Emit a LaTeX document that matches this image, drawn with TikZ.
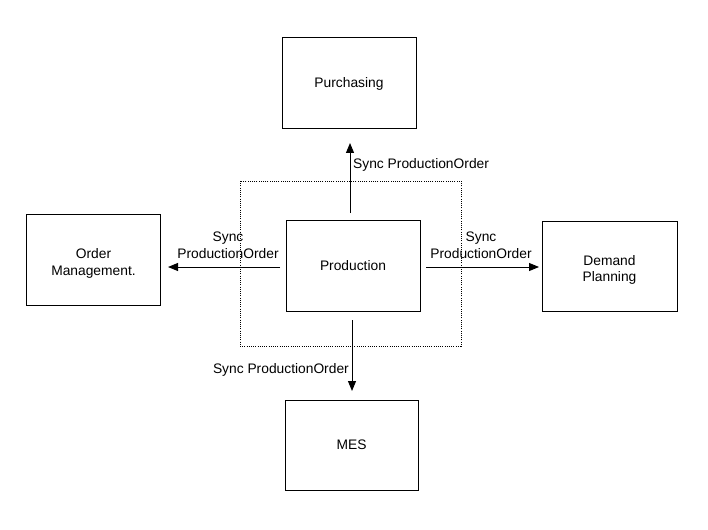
\documentclass[tikz,border=0pt]{standalone}
\usepackage{fontspec}
\setmainfont{Liberation Sans}
\usetikzlibrary{arrows.meta}
\begin{document}
\begin{tikzpicture}[x=1pt,y=-1pt,
  box/.style={draw,line width=1pt,minimum width=134pt,minimum height=91pt,inner sep=0pt,align=center,font=\fontsize{13.8}{16.5}\selectfont},
  lbl/.style={inner sep=0pt,align=center,font=\fontsize{13.8}{16.5}\selectfont},
  flow/.style={line width=1pt,-{Triangle[length=10pt,width=8pt]}}]
\useasboundingbox (0,0) rectangle (708,529);
\draw[line width=0.9pt,dash pattern=on 1pt off 1.2pt] (240,181) rectangle (461,346);
\node[box] (purch) at (349,83.5) {Purchasing};
\node[box] (om) at (93.5,259.5) {};
\node[lbl] (omt) at (93.5,263.5) {Order\\Management.};
\node[box] (prod) at (353,265.5) {Production};
\node[box,minimum width=135pt,minimum height=90pt] (dp) at (609.5,266) {};
\node[lbl] (dpt) at (609.5,270) {Demand\\Planning};
\node[box,minimum width=133pt,minimum height=90pt] (mes) at (351.5,445) {MES};
\coordinate (upS) at (350,213);
\coordinate (upE) at (350,143);
\coordinate (lS) at (280,267);
\coordinate (lE) at (168,267);
\coordinate (rS) at (426,267);
\coordinate (rE) at (539,267);
\coordinate (dS) at (352,320);
\coordinate (dE) at (352,391);
\draw[flow] (upS) -- (upE);
\draw[flow] (lS) -- (lE);
\draw[flow] (rS) -- (rE);
\draw[flow] (dS) -- (dE);
\node[lbl,anchor=west] (l1) at (353,165) {Sync ProductionOrder};
\node[lbl] (l2) at (228,245) {Sync\\ProductionOrder};
\node[lbl] (l3) at (481,245) {Sync\\ProductionOrder};
\node[lbl,anchor=east] (l4) at (349,370) {Sync ProductionOrder};
\end{tikzpicture}
\end{document}
